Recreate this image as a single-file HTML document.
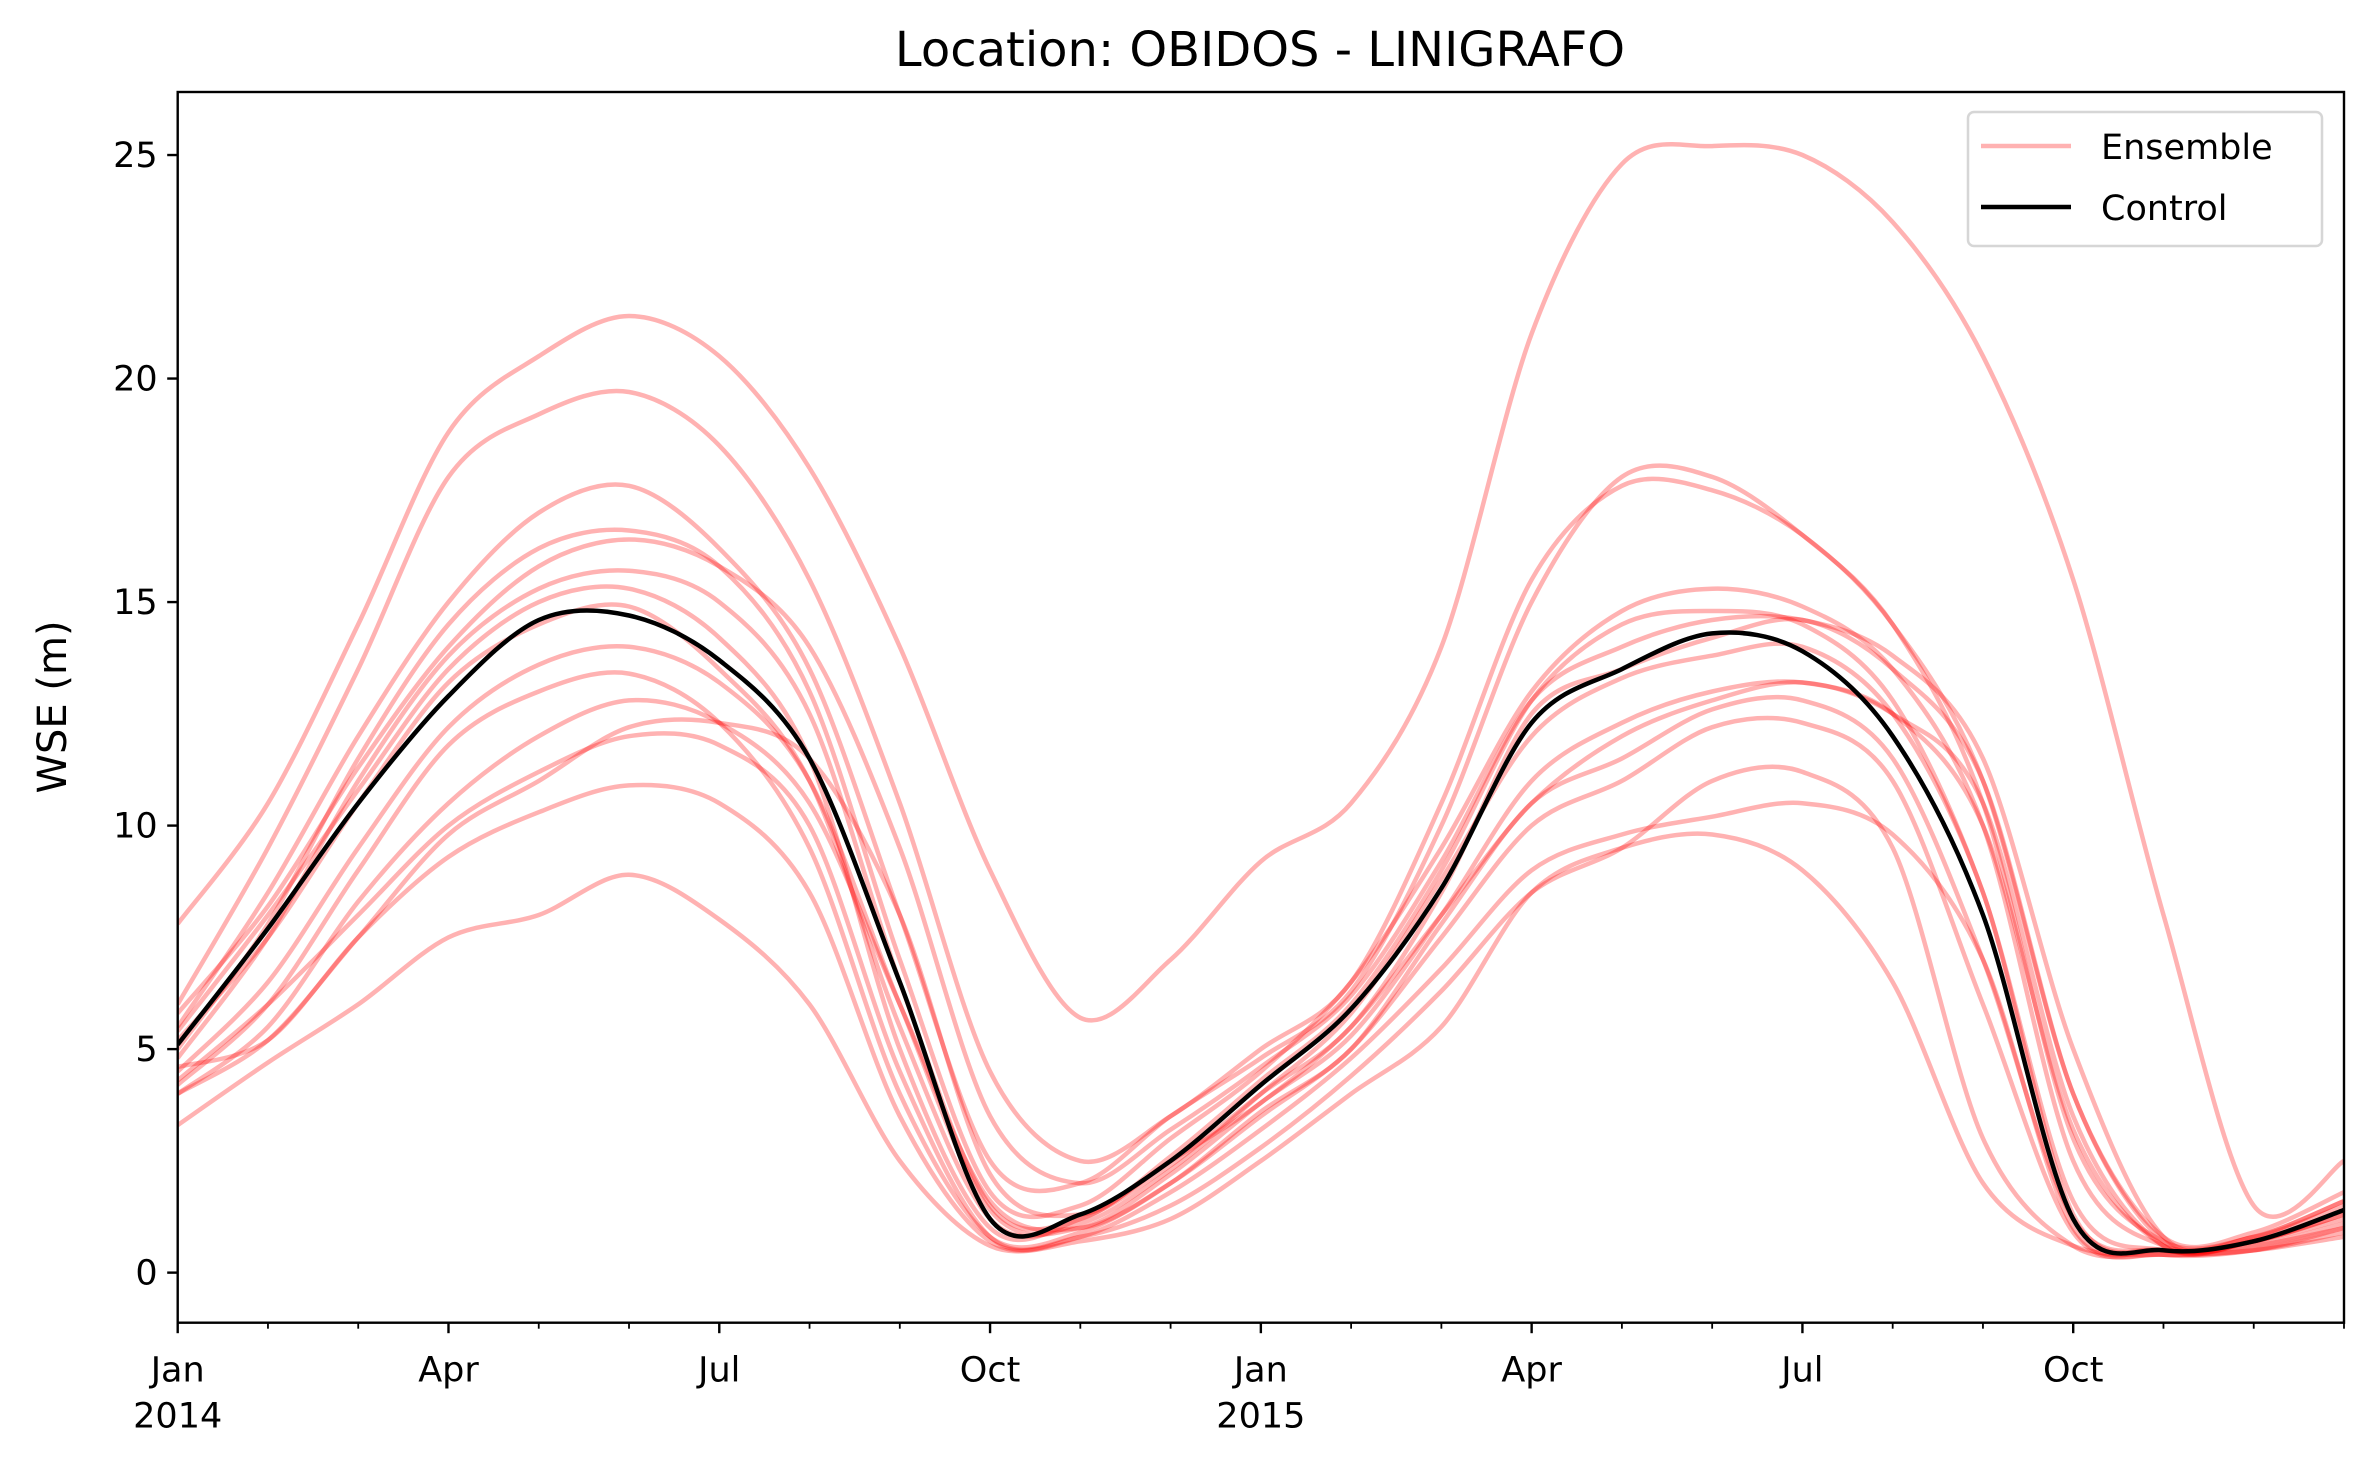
<!DOCTYPE html>
<html><head><meta charset="utf-8"><style>
html,body{margin:0;padding:0;background:#fff;}
svg{display:block;font-family:"DejaVu Sans","Liberation Sans",sans-serif;}
</style></head><body>
<svg id="chart" width="2372" height="1467" viewBox="0 0 2372 1467" xmlns="http://www.w3.org/2000/svg">
<rect x="0" y="0" width="2372" height="1467" fill="#fff"/>
<text x="1260" y="66" font-size="48" text-anchor="middle">Location: OBIDOS - LINIGRAFO</text>
<g id="series"></g>
<g id="axes"></g>
<text transform="translate(66,707) rotate(-90)" font-size="40" text-anchor="middle">WSE (m)</text>
<g>
<rect x="1968" y="112" width="354" height="134" rx="6" fill="#fff" fill-opacity="0.8" stroke="#d6d6d6" stroke-width="2.5"/>
<line x1="1981" y1="146" x2="2071" y2="146" stroke="#ff0000" stroke-opacity="0.3" stroke-width="4.5"/>
<text x="2101" y="159" font-size="35">Ensemble</text>
<line x1="1981" y1="207" x2="2071" y2="207" stroke="#000" stroke-width="4.5"/>
<text x="2101" y="220" font-size="35">Control</text>
</g>
</svg>
<script>
// months since Jan 2014 (monthly samples)
const months = [0,1,2,3,4,5,6,7,8,9,10,11,12,13,14,15,16,17,18,19,20,21,22,23,24];
const control = [5.1,7.7,10.5,12.9,14.6,14.7,13.7,11.5,6.5,1.2,1.3,2.5,4.2,5.9,8.6,12.3,13.5,14.3,13.9,12.0,8.0,1.2,0.5,0.7,1.4];
const ens1 = [7.8,10.5,14.5,18.8,20.5,21.4,20.5,18,14,9,5.7,7.0,9.2,10.5,14,21,24.8,25.2,25,23.5,20.5,15.5,8,1.5,2.5];
const ens2 = [6.0,9.5,13.5,17.8,19.2,19.7,18.5,15.5,10.5,4.5,2.5,3.5,5.0,6.5,10.5,15.5,17.6,17.5,16.5,14.5,11.0,4.0,0.8,0.9,1.8];
const ens3 = [5.5,8.5,12,15,17,17.6,16.2,13.5,8,2.5,2.0,3.5,4.8,6.3,10,15,17.8,17.8,16.5,14.5,10.5,3,0.7,0.8,1.6];
const ens4 = [5.0,7.8,11.5,14.5,16.2,16.6,15.8,13,7,1.8,1.5,3,4.5,6.5,9.5,13,14.8,15.3,14.9,13.5,10,2.5,0.6,0.8,1.6];
const ens5 = [4.8,7.5,11,13.8,15.3,15.7,15.0,12.5,6.5,1.5,1.2,2.6,4.3,6.0,9.0,12.8,14.5,14.8,14.5,12.8,8.5,1.6,0.5,0.7,1.4];
const ens6 = [5.4,8.0,10.8,13.5,15,15.3,14.2,11.5,5,1.0,1.2,2.4,4.0,5.5,8.5,12.5,13.5,14.2,14.6,13.5,11,4,0.7,0.7,1.4];
const ens7 = [4.5,6.5,9.5,12.2,13.6,14.0,13.2,11,6,1.4,1.0,2.2,3.8,5.3,8.0,11,12.3,13.0,13.2,12.5,10,3.2,0.6,0.7,1.3];
const ens8 = [4.2,6,9,11.8,13,13.4,12.3,9.5,4,0.8,0.9,2.0,3.6,5.0,7.8,10.5,11.5,12.6,12.8,11.5,7.0,1.2,0.5,0.6,1.1];
const ens9 = [4.0,5.5,8.3,10.5,12,12.8,12.3,10.5,6,1.6,1.0,2.0,3.5,5.0,7.5,10,11,12.2,12.3,11,6,0.9,0.4,0.5,1.0];
const ens10 = [4.0,5.2,7.5,9.8,11,12.2,12.3,11.5,8,2.2,1.3,2.5,3.8,5.5,8.0,10.5,12,12.8,13.2,12.5,10.5,3.5,0.6,0.7,1.2];
const ens11 = [4.6,5.2,7.5,9.3,10.3,10.9,10.5,8.5,3.5,0.7,0.8,1.8,3.2,4.8,6.8,9.0,9.8,10.2,10.5,9.8,7.0,1.0,0.5,0.6,1.0];
const ens12 = [3.3,4.7,6.0,7.5,8.0,8.9,7.9,6.0,2.5,0.6,0.7,1.2,2.5,4.0,5.5,8.5,9.5,9.8,9.0,6.5,2.0,0.6,0.4,0.5,0.8];
const ens13 = [4.3,6.0,8.0,10,11.2,12.0,11.8,10.0,4.5,0.8,0.8,1.5,2.8,4.4,6.3,8.5,9.5,11.0,11.2,9.5,3.0,0.6,0.4,0.5,0.9];
const ens14 = [5.2,7.5,10.5,13.2,14.5,14.9,13.5,11,5.5,1.2,1.1,2.3,4.0,5.8,8.8,12,13.3,13.8,14.0,12.5,8.5,1.3,0.5,0.7,1.3];
const ens15 = [5.8,8.2,11.3,14,15.8,16.4,15.8,14,9.5,3.5,2.0,3.2,4.6,6.2,9.2,12.8,14.0,14.6,14.6,13.8,11.5,5.0,0.8,0.8,1.5];
const ensembles = [ens1,ens2,ens3,ens4,ens5,ens6,ens7,ens8,ens9,ens10,ens11,ens12,ens13,ens14,ens15];
const yTicks = [0,5,10,15,20,25];
const xMajorLabels = [["Jan","2014"],["Apr",""],["Jul",""],["Oct",""],["Jan","2015"],["Apr",""],["Jul",""],["Oct",""]];
const xMajorMonths = [0,3,6,9,12,15,18,21];

const L=177.7,R=2344,T=92,B=1322.7;
const yMin=-1.12,yMax=26.41,xMin=0,xMax=24;
const xs=m=>L+(m-xMin)/(xMax-xMin)*(R-L);
const ys=v=>B-(v-yMin)/(yMax-yMin)*(B-T);
const NS="http://www.w3.org/2000/svg";

function pathFor(vals){
  const p=vals.map((v,i)=>[xs(months[i]),ys(v)]);
  let d="M"+p[0][0].toFixed(1)+","+p[0][1].toFixed(1);
  for(let i=0;i<p.length-1;i++){
    const p0=p[Math.max(0,i-1)],p1=p[i],p2=p[i+1],p3=p[Math.min(p.length-1,i+2)];
    const t=0.16;
    const c1x=p1[0]+(p2[0]-p0[0])*t,c1y=p1[1]+(p2[1]-p0[1])*t;
    const c2x=p2[0]-(p3[0]-p1[0])*t,c2y=p2[1]-(p3[1]-p1[1])*t;
    d+=" C"+c1x.toFixed(1)+","+c1y.toFixed(1)+" "+c2x.toFixed(1)+","+c2y.toFixed(1)+" "+p2[0].toFixed(1)+","+p2[1].toFixed(1);
  }
  return d;
}
const sg=document.getElementById("series");
const clip=document.createElementNS(NS,"clipPath");clip.setAttribute("id","plotclip");
const cr=document.createElementNS(NS,"rect");cr.setAttribute("x",L);cr.setAttribute("y",T);cr.setAttribute("width",R-L);cr.setAttribute("height",B-T);
clip.appendChild(cr);sg.appendChild(clip);
sg.setAttribute("clip-path","url(#plotclip)");
ensembles.forEach((s,i)=>{
  const el=document.createElementNS(NS,"path");
  el.setAttribute("d",pathFor(s));
  el.setAttribute("fill","none");el.setAttribute("stroke","#ff0000");el.setAttribute("stroke-opacity","0.3");el.setAttribute("stroke-width","4.5");
  
  
  sg.appendChild(el);
});
const cl=document.createElementNS(NS,"path");
cl.setAttribute("d",pathFor(control));
cl.setAttribute("fill","none");cl.setAttribute("stroke","#000");cl.setAttribute("stroke-width","4.5");


sg.appendChild(cl);

const ag=document.getElementById("axes");
function line(x1,y1,x2,y2,w,name){
  const e=document.createElementNS(NS,"line");
  e.setAttribute("x1",x1);e.setAttribute("y1",y1);e.setAttribute("x2",x2);e.setAttribute("y2",y2);
  e.setAttribute("stroke","#000");e.setAttribute("stroke-width",w);
  
  
  ag.appendChild(e);
}
function text(x,y,s,name,anchor){
  const e=document.createElementNS(NS,"text");
  e.setAttribute("x",x);e.setAttribute("y",y);e.setAttribute("font-size","35");e.setAttribute("text-anchor",anchor||"middle");
  e.textContent=s;
  
  
  ag.appendChild(e);
}
const fr=document.createElementNS(NS,"rect");
fr.setAttribute("x",L);fr.setAttribute("y",T);fr.setAttribute("width",R-L);fr.setAttribute("height",B-T);
fr.setAttribute("fill","none");fr.setAttribute("stroke","#000");fr.setAttribute("stroke-width","2.4");


ag.appendChild(fr);
yTicks.forEach(v=>{
  line(L-10.5,ys(v),L,ys(v),2.4,"y-tick-"+v);
  text(L-20,ys(v)+12,String(v),"y-tick-label-"+v,"end");
});
for(let m=0;m<=24;m++){
  const major=xMajorMonths.indexOf(m)>=0;
  line(xs(m),B,xs(m),B+(major?10.5:6),major?2.4:1.8,(major?"x-major-tick-":"x-minor-tick-")+m);
}
xMajorMonths.forEach((m,i)=>{
  text(xs(m),B+59,xMajorLabels[i][0],"x-tick-label-"+m);
  if(xMajorLabels[i][1]) text(xs(m),B+105,xMajorLabels[i][1],"x-year-label-"+m);
});
</script>
</body></html>
